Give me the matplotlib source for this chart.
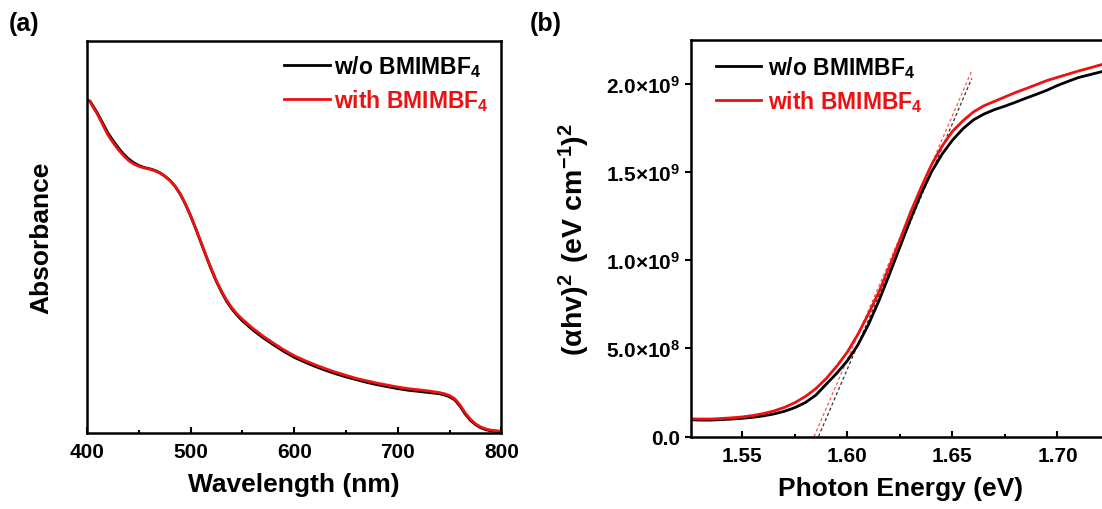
import matplotlib
matplotlib.use('Agg')
import matplotlib.pyplot as plt
from matplotlib.ticker import MultipleLocator, FixedLocator, FixedFormatter

# ---------------- data ----------------
# (a) absorbance spectra (normalised, arbitrary units)
wavelength = [400, 403, 406, 410, 415, 420, 425, 430, 435, 440, 445, 450, 455, 460,
              465, 470, 475, 480, 485, 490, 495, 500, 505, 510, 515, 520, 525, 530,
              535, 540, 545, 550, 560, 570, 580, 590, 600, 610, 620, 630, 640, 650,
              660, 670, 680, 690, 700, 710, 720, 730, 740, 745, 750, 755, 760, 765,
              770, 775, 780, 785, 790, 800]
abs_with = [0.850, 0.845, 0.831, 0.813, 0.787, 0.761, 0.741, 0.723, 0.708, 0.695,
            0.686, 0.680, 0.676, 0.673, 0.669, 0.663, 0.655, 0.644, 0.629, 0.609,
            0.584, 0.554, 0.521, 0.486, 0.451, 0.418, 0.387, 0.360, 0.337, 0.318,
            0.302, 0.289, 0.266, 0.246, 0.228, 0.211, 0.196, 0.184, 0.173, 0.163,
            0.154, 0.146, 0.138, 0.132, 0.126, 0.121, 0.116, 0.112, 0.109, 0.106,
            0.102, 0.099, 0.094, 0.086, 0.070, 0.050, 0.034, 0.022, 0.014, 0.009,
            0.006, 0.003]
abs_without = [0.850, 0.846, 0.833, 0.816, 0.791, 0.766, 0.746, 0.728, 0.712, 0.699,
               0.689, 0.682, 0.677, 0.674, 0.670, 0.664, 0.655, 0.644, 0.629, 0.609,
               0.583, 0.553, 0.520, 0.485, 0.450, 0.416, 0.385, 0.358, 0.334, 0.315,
               0.299, 0.285, 0.262, 0.242, 0.224, 0.207, 0.192, 0.180, 0.169, 0.159,
               0.150, 0.142, 0.135, 0.128, 0.122, 0.117, 0.112, 0.108, 0.105, 0.102,
               0.099, 0.096, 0.091, 0.083, 0.067, 0.047, 0.031, 0.020, 0.012, 0.007,
               0.004, 0.002]

# (b) Tauc plot
energy = [1.5255, 1.530, 1.535, 1.540, 1.545, 1.550, 1.555, 1.560, 1.565, 1.570,
          1.575, 1.580, 1.585, 1.590, 1.595, 1.600, 1.605, 1.610, 1.615, 1.620,
          1.625, 1.630, 1.635, 1.640, 1.645, 1.650, 1.655, 1.660, 1.665, 1.670,
          1.675, 1.680, 1.685, 1.690, 1.695, 1.700, 1.705, 1.710, 1.715, 1.720,
          1.725]
tauc_with = [1.00e8, 0.99e8, 0.99e8, 1.02e8, 1.06e8, 1.11e8, 1.19e8, 1.30e8, 1.45e8,
             1.65e8, 1.92e8, 2.27e8, 2.72e8, 3.30e8, 4.00e8, 4.80e8, 5.80e8, 6.95e8,
             8.20e8, 9.65e8, 1.115e9, 1.270e9, 1.410e9, 1.540e9, 1.645e9, 1.730e9,
             1.790e9, 1.840e9, 1.875e9, 1.900e9, 1.925e9, 1.950e9, 1.972e9, 1.995e9,
             2.018e9, 2.036e9, 2.054e9, 2.072e9, 2.088e9, 2.105e9, 2.120e9]
tauc_without = [0.95e8, 0.93e8, 0.93e8, 0.96e8, 0.99e8, 1.03e8, 1.09e8, 1.17e8, 1.28e8,
                1.43e8, 1.64e8, 1.93e8, 2.35e8, 2.98e8, 3.60e8, 4.30e8, 5.20e8, 6.35e8,
                7.70e8, 9.20e8, 1.075e9, 1.230e9, 1.375e9, 1.500e9, 1.600e9, 1.680e9,
                1.745e9, 1.795e9, 1.828e9, 1.853e9, 1.873e9, 1.895e9, 1.918e9, 1.940e9,
                1.963e9, 1.990e9, 2.013e9, 2.035e9, 2.050e9, 2.065e9, 2.080e9]
# linear-fit tangent lines (end points)
fit_with_E = [1.5841, 1.6592]
fit_with_y = [0.0, 2.074e9]
fit_without_E = [1.5862, 1.6592]
fit_without_y = [0.0, 2.030e9]

labels_series = ['w/o BMIMBF$_4$', 'with BMIMBF$_4$']
xticks_a = [400, 500, 600, 700, 800]
xticks_b = [1.55, 1.60, 1.65, 1.70]
xticklabels_b = ['1.55', '1.60', '1.65', '1.70']
yticks_b = [0.0, 5.0e8, 1.0e9, 1.5e9, 2.0e9]
yticklabels_b = ['0.0', r'$5.0{\times}10^{8}$', r'$1.0{\times}10^{9}$',
                 r'$1.5{\times}10^{9}$', r'$2.0{\times}10^{9}$']

# ---------------- style ----------------
plt.rcParams['font.family'] = ['Liberation Sans', 'DejaVu Sans']
plt.rcParams['font.weight'] = 'bold'
plt.rcParams['axes.labelweight'] = 'bold'
plt.rcParams['mathtext.fontset'] = 'custom'
plt.rcParams['mathtext.rm'] = 'Liberation Sans:bold'
plt.rcParams['mathtext.bf'] = 'Liberation Sans:bold'
plt.rcParams['mathtext.it'] = 'Liberation Sans:bold'
plt.rcParams['mathtext.sf'] = 'Liberation Sans'
plt.rcParams['mathtext.default'] = 'rm'

W, H = 1102, 510
fig = plt.figure(figsize=(W / 100, H / 100), dpi=100)
fig.patch.set_facecolor('white')

SPINE_W = 1.8
LINE_W = 2.0
BLACK = '#000000'
RED = '#ee1111'

# ---------------- panel (a) ----------------
axa = fig.add_axes([87 / W, (H - 433.5) / H, (501.5 - 87) / W, (433.5 - 42) / H])
axa.plot(wavelength, abs_without, color=BLACK, lw=LINE_W, label=labels_series[0])
axa.plot(wavelength, abs_with, color=RED, lw=LINE_W, label=labels_series[1])
axa.set_xlim(400, 800)
axa.set_ylim(0, 1)
axa.xaxis.set_major_locator(FixedLocator(xticks_a))
axa.xaxis.set_minor_locator(MultipleLocator(50))
axa.set_yticks([])
axa.tick_params(axis='x', which='major', direction='in', length=4, width=1.5,
                labelsize=15, pad=7)
axa.tick_params(axis='x', which='minor', direction='in', length=2.5, width=1.5)
for s in axa.spines.values():
    s.set_linewidth(SPINE_W)
axa.set_xlabel('Wavelength (nm)', fontsize=19, labelpad=8)
axa.set_ylabel('Absorbance', fontsize=19, labelpad=24)
axa.legend(loc='upper left', bbox_to_anchor=(284 / W, 1 - 54 / H),
           bbox_transform=fig.transFigure, frameon=False, borderpad=0,
           borderaxespad=0, handlelength=2.0, handletextpad=0.2,
           labelspacing=0.35, fontsize=16.5, labelcolor='linecolor')

# ---------------- panel (b) ----------------
axb = fig.add_axes([691 / W, (H - 437.5) / H, (1110 - 691) / W, (437.5 - 41) / H])
axb.plot(fit_without_E, fit_without_y, color='#333333', lw=0.9, dashes=(2.5, 2))
axb.plot(fit_with_E, fit_with_y, color='#ff5555', lw=0.9, dashes=(2.5, 2))
axb.plot(energy, tauc_without, color=BLACK, lw=LINE_W, label=labels_series[0])
axb.plot(energy, tauc_with, color=RED, lw=LINE_W, label=labels_series[1])
axb.set_xlim(1.5255, 1.725)
axb.set_ylim(0, 2.2477e9)
axb.xaxis.set_major_locator(FixedLocator(xticks_b))
axb.xaxis.set_major_formatter(FixedFormatter(xticklabels_b))
axb.xaxis.set_minor_locator(MultipleLocator(0.025))
axb.yaxis.set_major_locator(FixedLocator(yticks_b))
axb.yaxis.set_major_formatter(FixedFormatter(yticklabels_b))
axb.tick_params(axis='x', which='major', direction='in', length=4, width=1.5,
                labelsize=15, pad=7)
axb.tick_params(axis='x', which='minor', direction='in', length=2.5, width=1.5)
axb.tick_params(axis='y', which='major', direction='out', length=4, width=1.5,
                labelsize=15, pad=4)
for s in axb.spines.values():
    s.set_linewidth(SPINE_W)
axb.set_xlabel('Photon Energy (eV)', fontsize=19, labelpad=8)
axb.set_ylabel(r'$(\mathsf{\alpha}hv)^{2}\;\,(eV\ cm^{-1})^{2}$', fontsize=20.5,
               labelpad=10)
axb.legend(loc='upper left', bbox_to_anchor=(715.6 / W, 1 - 55 / H),
           bbox_transform=fig.transFigure, frameon=False, borderpad=0,
           borderaxespad=0, handlelength=2.0, handletextpad=0.3,
           labelspacing=0.35, fontsize=16.5, labelcolor='linecolor')

# panel labels
fig.text(9 / W, 1 - 12 / H, '(a)', fontsize=18, va='top', ha='left')
fig.text(530 / W, 1 - 12 / H, '(b)', fontsize=18, va='top', ha='left')

fig.savefig('out.png', dpi=100, facecolor='white')
